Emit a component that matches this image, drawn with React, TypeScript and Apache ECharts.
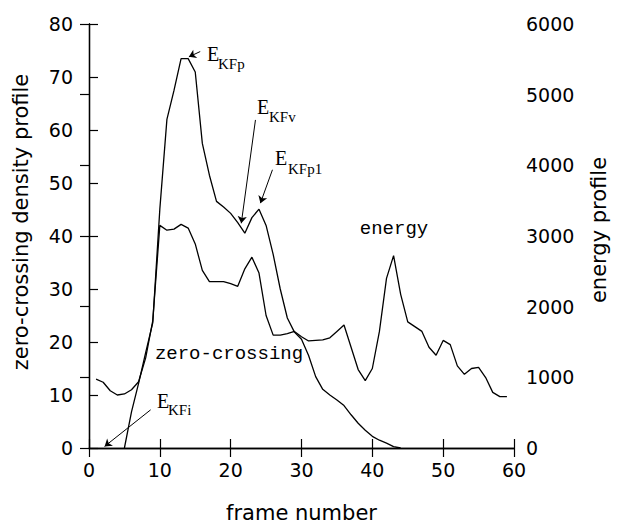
import { useEffect, useRef } from "react";
import * as echarts from "echarts";

// zero-crossing density profile (left axis)
const zcFrames = [
  1, 2, 3, 4, 5, 6, 7, 8, 9, 10, 11, 12, 13, 14, 15, 16, 17, 18, 19, 20,
  21, 22, 23, 24, 25, 26, 27, 28, 29, 30, 31, 32, 33, 34, 35, 36, 37, 38, 39, 40,
  41, 42, 43, 44, 45, 46, 47, 48, 49, 50, 51, 52, 53, 54, 55, 56, 57, 58, 59,
];
const zcValues = [
  13, 12.4, 10.8, 10, 10.2, 11, 12.5, 17, 24, 42, 41.1, 41.3, 42.2, 41.5, 38.5, 33.5, 31.4, 31.4, 31.4, 31,
  30.5, 33.8, 36, 33, 25, 21.3, 21.3, 21.6, 22, 21, 20.2, 20.3, 20.4, 20.8, 22, 23.2, 19, 14.8, 12.7, 15,
  22, 32, 36.3, 29, 23.8, 22.9, 22, 19, 17.5, 20.3, 19.5, 15.5, 13.9, 15, 15.2, 13.3, 10.5, 9.7, 9.7,
];

// energy profile (right axis)
const energyFrames = [
  5, 6, 7, 8, 9, 10, 11, 12, 13, 14, 15, 16, 17, 18, 19, 20, 21, 22, 23, 24,
  25, 26, 27, 28, 29, 30, 31, 32, 33, 34, 35, 36, 37, 38, 39, 40, 41, 42, 43, 44,
];
const energyValues = [
  0, 510, 915, 1350, 1770, 3380, 4650, 5060, 5510, 5510, 5320, 4310, 3860, 3490, 3410, 3320, 3190, 3040, 3260, 3380,
  3150, 2740, 2250, 1840, 1640, 1540, 1310, 1010, 830, 750, 680, 600, 470, 350, 250, 165, 110, 70, 20, 0,
];

// annotation arrows, in (frame, left-axis) units: [tailX, tailY, headX, headY]
const arrowKFp = [15.7, 74.8, 14.1, 73.8];
const arrowKFv = [23.5, 61.9, 21.5, 42.4];
const arrowKFp1 = [25.9, 52.5, 24.2, 46.2];
const arrowKFi = [8.7, 7.2, 2.2, 0.3];

const SANS = "DejaVu Sans";
const SERIF = "Liberation Serif";
const MONO = "Liberation Mono";

export default function App() {
  const ref = useRef<HTMLDivElement>(null);

  useEffect(() => {
    if (!ref.current) return;
    const chart = echarts.init(ref.current, undefined, { renderer: "svg" });

    const axisLine = { show: true, lineStyle: { color: "#000", width: 1.3 } };
    const axisTick = { show: true, inside: true, length: 9, lineStyle: { color: "#000", width: 1.2 } };
    const labelStyle = { color: "#000", fontSize: 19, fontFamily: SANS, formatter: (v: number) => String(v) };
    const nameStyle = { color: "#000", fontSize: 21, fontFamily: SANS };

    const arrow = (a: number[]) => [
      { coord: [a[0], a[1]] },
      { coord: [a[2], a[3]] },
    ];

    const eLabel = (x: number, y: number, sx: number, sy: number, sub: string) => [
      {
        type: "text",
        x,
        y,
        style: { text: "E", fontSize: 20, fontFamily: SERIF, fill: "#000", verticalAlign: "middle", align: "left" },
      },
      {
        type: "text",
        x: sx,
        y: sy,
        style: { text: sub, fontSize: 15, fontFamily: SERIF, fill: "#000", verticalAlign: "middle", align: "left" },
      },
    ];

    chart.setOption({
      animation: false,
      backgroundColor: "#fff",
      grid: { left: 89, right: 98, top: 24, bottom: 80 },
      xAxis: [
        {
          type: "value",
          min: 0,
          max: 60,
          interval: 10,
          position: "bottom",
          axisLine,
          axisTick,
          axisLabel: { ...labelStyle, margin: 12 },
          splitLine: { show: false },
          name: "frame number",
          nameLocation: "middle",
          nameGap: 54,
          nameTextStyle: nameStyle,
        },
        {
          type: "value",
          min: 0,
          max: 60,
          interval: 10,
          position: "top",
          axisLine,
          axisTick,
          axisLabel: { show: false },
          splitLine: { show: false },
        },
      ],
      yAxis: [
        {
          type: "value",
          min: 0,
          max: 80,
          interval: 10,
          position: "left",
          axisLine,
          axisTick,
          axisLabel: { ...labelStyle, margin: 16 },
          splitLine: { show: false },
          name: "zero-crossing density profile",
          nameLocation: "middle",
          nameGap: 58,
          nameTextStyle: { ...nameStyle, padding: [0, 0, 0, 28] },
        },
        {
          type: "value",
          min: 0,
          max: 6000,
          interval: 1000,
          position: "right",
          axisLine,
          axisTick,
          axisLabel: { ...labelStyle, margin: 12 },
          splitLine: { show: false },
          name: "energy profile",
          nameLocation: "middle",
          nameGap: 74,
          nameTextStyle: { ...nameStyle, padding: [0, 0, 0, 12] },
        },
      ],
      series: [
        {
          name: "zero-crossing",
          type: "line",
          xAxisIndex: 0,
          yAxisIndex: 0,
          data: zcFrames.map((f, i) => [f, zcValues[i]]),
          symbol: "none",
          lineStyle: { color: "#000", width: 1.3 },
          markLine: {
            silent: true,
            symbol: ["none", "arrow"],
            symbolSize: 7,
            label: { show: false },
            lineStyle: { color: "#000", width: 1, type: "solid" },
            data: [arrow(arrowKFp), arrow(arrowKFv), arrow(arrowKFp1), arrow(arrowKFi)],
          },
        },
        {
          name: "energy",
          type: "line",
          xAxisIndex: 0,
          yAxisIndex: 1,
          data: energyFrames.map((f, i) => [f, energyValues[i]]),
          symbol: "none",
          lineStyle: { color: "#000", width: 1.3 },
        },
      ],
      graphic: [
        ...eLabel(207, 54, 218, 64, "KFp"),
        ...eLabel(257, 107, 269, 117, "KFv"),
        ...eLabel(275, 158, 288, 169, "KFp1"),
        ...eLabel(157, 401, 168, 410, "KFi"),
        {
          type: "text",
          x: 394,
          y: 229,
          style: { text: "energy", fontSize: 19, fontFamily: MONO, fill: "#000", align: "center", verticalAlign: "middle" },
        },
        {
          type: "text",
          x: 229,
          y: 354,
          style: { text: "zero-crossing", fontSize: 19, fontFamily: MONO, fill: "#000", align: "center", verticalAlign: "middle" },
        },
      ],
    });

    return () => chart.dispose();
  }, []);

  return (
    <div
      ref={ref}
      style={{ position: "fixed", left: 0, top: 0, width: 617, height: 528, background: "#fff" }}
    />
  );
}
